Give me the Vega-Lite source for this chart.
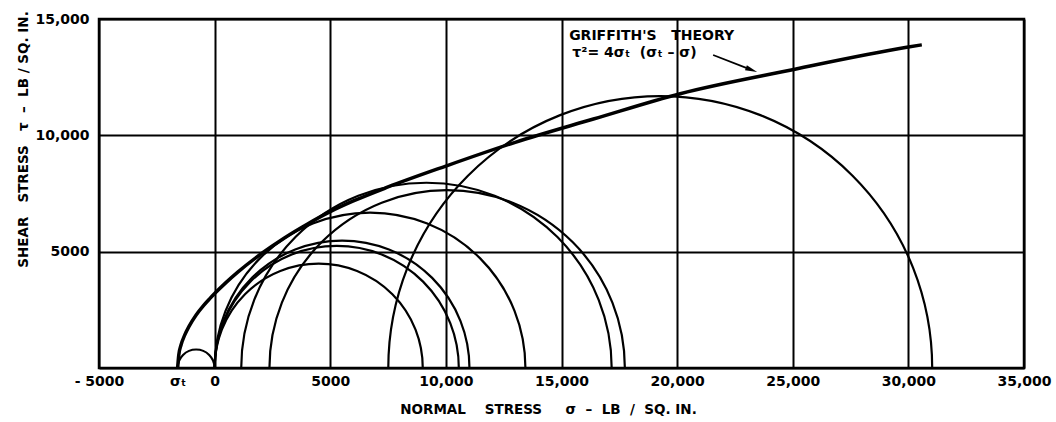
{
  "$schema": "https://vega.github.io/schema/vega-lite/v6.json",
  "width": 925,
  "height": 349,
  "autosize": {"type": "none"},
  "padding": {"left": 99, "top": 19, "right": 32, "bottom": 54},
  "background": "white",
  "config": {
    "view": {"stroke": "black", "strokeWidth": 2.5},
    "font": "DejaVu Sans",
    "axis": {"labelFont": "DejaVu Sans", "labelFontWeight": "bold", "labelFontSize": 14, "labelColor": "black", "titleFont": "DejaVu Sans", "titleFontWeight": "bold", "titleFontSize": 13.5, "titleColor": "black", "ticks": false, "domain": false, "gridColor": "black", "gridWidth": 2}
  },
  "datasets": {
    "circles": [
      {"s": -800, "t": 0, "r": 800},
      {"s": 4500, "t": 0, "r": 4500},
      {"s": 5280, "t": 0, "r": 5280},
      {"s": 5510, "t": 0, "r": 5510},
      {"s": 6720, "t": 0, "r": 6720},
      {"s": 9160, "t": 0, "r": 8010},
      {"s": 10055, "t": 0, "r": 7685},
      {"s": 19270, "t": 0, "r": 11760}
    ],
    "envelope": [
      {"s": -1600, "t": 0},
      {"s": -1550, "t": 560},
      {"s": -1450, "t": 1000},
      {"s": -1300, "t": 1400},
      {"s": -1100, "t": 1800},
      {"s": -800, "t": 2280},
      {"s": -500, "t": 2660},
      {"s": -200, "t": 2990},
      {"s": 0, "t": 3200},
      {"s": 500, "t": 3680},
      {"s": 1000, "t": 4120},
      {"s": 2000, "t": 4900},
      {"s": 3000, "t": 5580},
      {"s": 4000, "t": 6180},
      {"s": 5000, "t": 6720},
      {"s": 6000, "t": 7180},
      {"s": 7500, "t": 7780},
      {"s": 10000, "t": 8680},
      {"s": 13000, "t": 9700},
      {"s": 16380, "t": 10700},
      {"s": 20130, "t": 11790},
      {"s": 24880, "t": 12800},
      {"s": 29930, "t": 13784},
      {"s": 30580, "t": 13890}
    ],
    "notes": [
      {"s": 15330, "t": 14270, "label": "GRIFFITH'S\u00a0\u00a0\u00a0THEORY"},
      {"s": 15470, "t": 13540, "label": "τ²=\u00a04σₜ\u00a0\u00a0(σₜ\u00a0–\u00a0σ)"}
    ],
    "arrow": [
      {"s": 21557, "t": 13452, "s2": 23100, "t2": 12860}
    ],
    "arrowhead": [
      {"s": 23460, "t": 12722}
    ]
  },
  "encoding": {
    "x": {
      "field": "s", "type": "quantitative",
      "scale": {"domain": [-5000, 35000], "nice": false, "zero": false},
      "axis": {
        "values": [-5000, -1600, 0, 5000, 10000, 15000, 20000, 25000, 30000, 35000],
        "labelExpr": "datum.value == -1600 ? 'σₜ' : datum.value == -5000 ? '- 5000' : datum.value == 0 ? '0' : datum.value >= 10000 ? format(datum.value, ',') : format(datum.value, 'd')",
        "labelPadding": 6,
        "labelFlush": false,
        "grid": true,
        "gridOpacity": {"condition": {"test": "datum.value == -1600", "value": 0}, "value": 1},
        "title": "NORMAL\u00a0\u00a0\u00a0\u00a0STRESS\u00a0\u00a0\u00a0\u00a0\u00a0σ\u00a0\u00a0–\u00a0\u00a0LB\u00a0\u00a0/\u00a0\u00a0SQ.\u00a0IN.",
        "titleX": 449,
        "titleY": 45,
        "titleAnchor": null,
        "titleAlign": "center",
        "titleBaseline": "alphabetic"
      }
    },
    "y": {
      "field": "t", "type": "quantitative",
      "scale": {"domain": [0, 15000], "nice": false, "zero": true},
      "axis": {
        "values": [0, 5000, 10000, 15000],
        "labelExpr": "datum.value == 0 ? '' : datum.value >= 10000 ? format(datum.value, ',') : format(datum.value, 'd')",
        "labelPadding": 10,
        "grid": true,
        "title": "SHEAR\u00a0\u00a0\u00a0STRESS\u00a0\u00a0\u00a0τ\u00a0\u00a0–\u00a0\u00a0LB\u00a0/\u00a0SQ.\u00a0IN.",
        "titleX": -76,
        "titleY": 120,
        "titleAngle": 270,
        "titleAlign": "center",
        "titleBaseline": "middle"
      }
    }
  },
  "layer": [
    {
      "data": {"name": "circles"},
      "mark": {"type": "point", "shape": "circle", "filled": false, "stroke": "black", "strokeWidth": 2.2, "opacity": 1, "clip": true},
      "encoding": {
        "size": {"field": "r", "type": "quantitative", "legend": null,
          "scale": {"type": "pow", "exponent": 2, "domain": [0, 12000], "range": [0, 308025], "zero": true}}
      }
    },
    {
      "data": {"name": "envelope"},
      "mark": {"type": "line", "color": "black", "strokeWidth": 3.5, "interpolate": "monotone", "clip": true},
      "encoding": {}
    },
    {
      "data": {"name": "arrow"},
      "mark": {"type": "rule", "color": "black", "strokeWidth": 1.8},
      "encoding": {
        "x2": {"field": "s2"},
        "y2": {"field": "t2"}
      }
    },
    {
      "data": {"name": "arrowhead"},
      "mark": {"type": "point", "shape": "M0,0 L-1,-0.22 L-1,0.22 Z", "filled": true, "color": "black", "opacity": 1, "size": 576, "angle": 21},
      "encoding": {}
    },
    {
      "data": {"name": "notes"},
      "mark": {"type": "text", "align": "left", "baseline": "middle", "font": "DejaVu Sans", "fontWeight": "bold", "fontSize": 14, "color": "black"},
      "encoding": {"text": {"field": "label"}}
    }
  ]
}
